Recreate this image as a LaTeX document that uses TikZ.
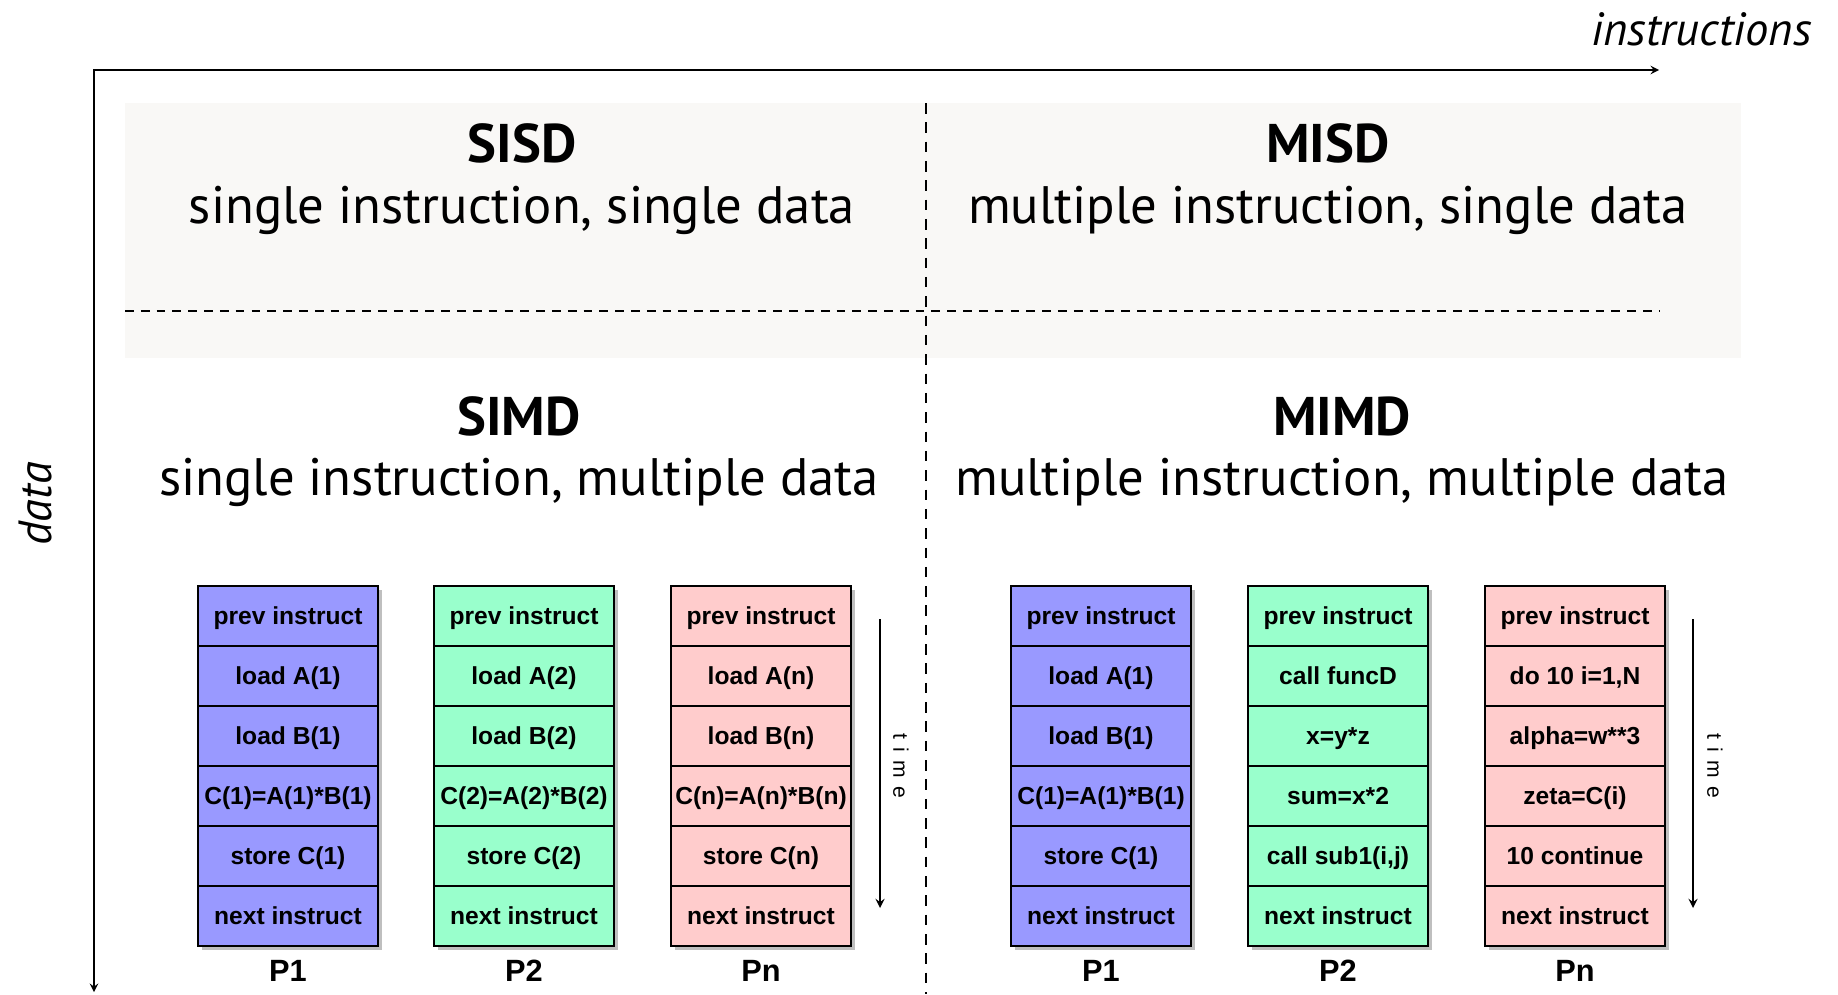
\documentclass[tikz,border=0pt]{standalone}
\usepackage{fontspec}
\setmainfont{PT Sans}
\newfontfamily\boxfont{Liberation Sans}
\usetikzlibrary{positioning,shadows}

\definecolor{procblue}{HTML}{9999FF}
\definecolor{procgreen}{HTML}{99FFCC}
\definecolor{procpink}{HTML}{FFCCCC}
\definecolor{bandgrey}{HTML}{F9F8F6}

\tikzset{
  cell/.style={draw, line width=1.3pt, minimum width=3.6cm, minimum height=1.2cm,
    inner sep=1pt, text height=2ex, text depth=0pt,
    font=\boxfont\bfseries\fontsize{14}{16}\selectfont,
    drop shadow={shadow xshift=2pt, shadow yshift=-2.5pt, opacity=.5}},
  proc 1/.style={fill=procblue},
  proc 2/.style={fill=procgreen},
  proc n/.style={fill=procpink},
  plabel/.style={font=\boxfont\bfseries\fontsize{17.5}{20}\selectfont},
  title/.style={font=\bfseries\fontsize{31}{36}\selectfont},
  subtitle/.style={font=\fontsize{30}{36}\selectfont},
  axislabel/.style={font=\itshape\fontsize{26.5}{32}\selectfont},
  timelabel/.style={rotate=-90, font={\boxfont\fontsize{12}{14}\selectfont\addfontfeature{LetterSpace=40}}},
}

\begin{document}
\begin{tikzpicture}[x=0.02cm, y=-0.02cm, >=stealth]

\useasboundingbox (0,0) rectangle (1838,994);

% Shaded band behind the single data row
\fill [bandgrey] (125,103) rectangle (1741,358);

% Axes
\coordinate (origin) at (94,70);
\coordinate (instr-end) at (1659,70);
\coordinate (data-end) at (94,992);
\draw [<->, line width=1.1pt] (instr-end) -- (origin) -- (data-end);
\node [axislabel, anchor=east] (instr-label) at (1818,29) {instructions};
\node [axislabel, rotate=90] (data-label) at (35,504) {data};

% Quadrant separators
\draw [dash pattern=on 6pt off 5pt, line width=0.9pt] (926,103) -- (926,994);
\draw [dash pattern=on 5pt off 4pt, line width=0.9pt] (125,311) -- (1659,311);

% Quadrant titles
\node [title] (sisd) at (522,143) {SISD};
\node [subtitle] (sisd-sub) at (522,210) {single instruction, single data};
\node [title] (misd) at (1328,143) {MISD};
\node [subtitle] (misd-sub) at (1328,210) {multiple instruction, single data};
\node [title] (simd) at (519,416) {SIMD};
\node [subtitle] (simd-sub) at (519,482) {single instruction, multiple data};
\node [title] (mimd) at (1342,416) {MIMD};
\node [subtitle] (mimd-sub) at (1342,482) {multiple instruction, multiple data};

% SIMD processors
\foreach \p/\x in {1/288, 2/524, n/761}
  \foreach \l [count=\y] in {prev instruct, load A(\p), load B(\p), C(\p)=A(\p)*B(\p), store C(\p), next instruct}
    \node [cell, proc \p] (simd-\p-\y) at (\x,556+60*\y) {\l};

% MIMD processors
\foreach \l [count=\y] in {prev instruct, load A(1), load B(1), C(1)=A(1)*B(1), store C(1), next instruct}
  \node [cell, proc 1] (mimd-1-\y) at (1101,556+60*\y) {\l};
\foreach \l [count=\y] in {prev instruct, call funcD, x=y*z, sum=x*2, {call sub1(i,j)}, next instruct}
  \node [cell, proc 2] (mimd-2-\y) at (1338,556+60*\y) {\l};
\foreach \l [count=\y] in {prev instruct, {do 10 i=1,N}, alpha=w**3, zeta=C(i), 10 continue, next instruct}
  \node [cell, proc n] (mimd-n-\y) at (1575,556+60*\y) {\l};

% Processor labels
\foreach \p in {1,2,n} {
  \node [plabel, below=4pt of simd-\p-6] (simd-label-\p) {P\p};
  \node [plabel, below=4pt of mimd-\p-6] (mimd-label-\p) {P\p};
}

% Time arrows
\coordinate (simd-time-start) at (880,619);
\coordinate (simd-time-end) at (880,908);
\coordinate (mimd-time-start) at (1693,619);
\coordinate (mimd-time-end) at (1693,908);
\draw [->, line width=1.3pt] (simd-time-start) -- (simd-time-end);
\draw [->, line width=1.3pt] (mimd-time-start) -- (mimd-time-end);
\node [timelabel] (simd-time) at (901,766) {time};
\node [timelabel] (mimd-time) at (1715,766) {time};

\end{tikzpicture}
\end{document}
